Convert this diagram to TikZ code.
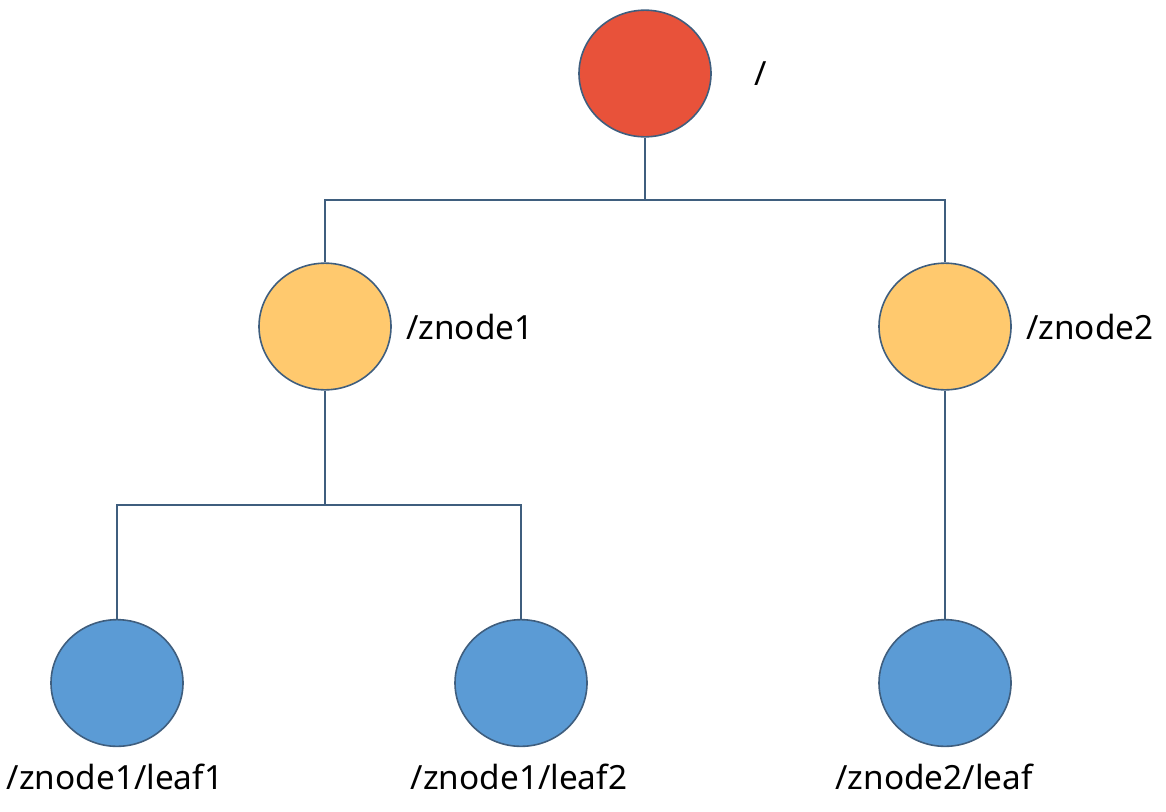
\documentclass[tikz,border=0pt]{standalone}
\usepackage{fontspec}
\setmainfont{Noto Sans}
\usetikzlibrary{shapes.geometric}
\definecolor{rootred}{HTML}{E8523A}
\definecolor{midyellow}{HTML}{FFC96E}
\definecolor{leafblue}{HTML}{5B9BD5}
\definecolor{edgeblue}{HTML}{3F5E7E}
\tikzset{
	znode/.style={ellipse, draw=edgeblue, line width=1.2pt, inner sep=0pt,
		minimum width=99pt, minimum height=95pt},
	link/.style={edgeblue, line width=1.4pt},
	path label/.style={font=\fontsize{25}{29}\selectfont, inner sep=0pt}
}
\begin{document}
\begin{tikzpicture}[x=0.75pt, y=-0.75pt]
	\useasboundingbox (0,0) rectangle (1166,811);
	
	% root
	\node[znode, fill=rootred] (root) at (645,73.5){};
	\node[path label] (rootlbl) at (761,74){/};
	
	% second level
	\node[znode, fill=midyellow] (z1) at (325,326.5){};
	\node[znode, fill=midyellow] (z2) at (945,326.5){};
	\node[path label, anchor=west] (z1lbl) at (406,327){/znode1};
	\node[path label, anchor=west] (z2lbl) at (1026,327){/znode2};
	
	% leaves
	\node[znode, fill=leafblue] (leaf1) at (117,683){};
	\node[znode, fill=leafblue] (leaf2) at (521,683){};
	\node[znode, fill=leafblue] (leaf3) at (945,683){};
	\node[path label] (l1lbl) at (115,777){/znode1/leaf1};
	\node[path label] (l2lbl) at (519,777){/znode1/leaf2};
	\node[path label] (l3lbl) at (934,777){/znode2/leaf};
	
	% links
	\coordinate (j0) at (645,200);
	\coordinate (j1) at (325,505);
	\draw[link] (root.south) -- (j0);
	\draw[link] (z1.north) |- (j0) -| (z2.north);
	\draw[link] (z1.south) -- (j1);
	\draw[link] (leaf1.north) |- (j1) -| (leaf2.north);
	\draw[link] (z2.south) -- (leaf3.north);
\end{tikzpicture}
\end{document}
